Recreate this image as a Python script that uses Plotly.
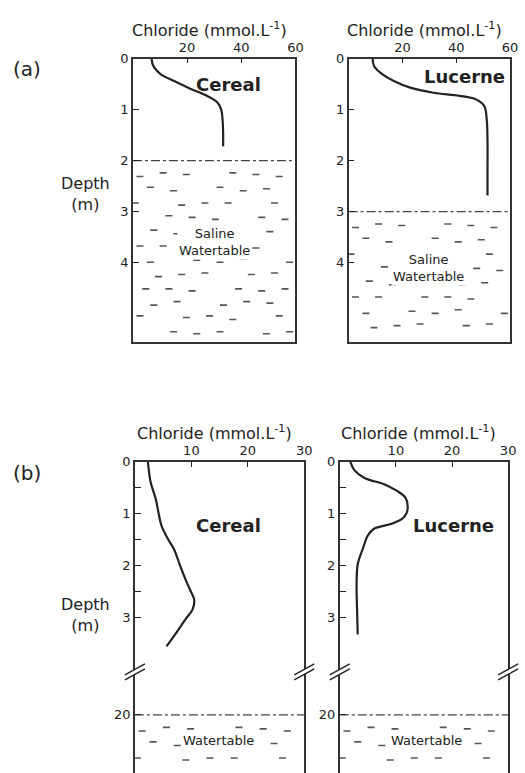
import numpy as np
import plotly.graph_objects as go

W, H = 525, 773

# ---------------- data ----------------
# (a) saline watertable site
a_cereal_depth = [0, 0.1, 0.18, 0.31, 0.44, 0.59, 0.73, 0.86, 1.0, 1.2, 1.45, 1.72]
a_cereal_cl = [6.9, 7.2, 7.9, 10.3, 15.2, 21.2, 27.3, 31.2, 32.6, 33.1, 33.3, 33.3]
a_lucerne_depth = [0, 0.15, 0.31, 0.44, 0.57, 0.67, 0.73, 0.8, 0.93, 1.18, 1.6, 2.2, 2.68]
a_lucerne_cl = [8.9, 9.5, 12.6, 16.8, 22.9, 31.5, 41.2, 47.3, 50.4, 51.3, 51.6, 51.6, 51.6]
a_watertable = [2.0, 3.0]          # cereal, lucerne (m)
a_xticks = [20, 40, 60]
a_yticks = [0, 1, 2, 3, 4]

# (b) deep watertable site
b_cereal_depth = [0, 0.4, 0.72, 1.05, 1.23, 1.48, 1.68, 2.0, 2.33, 2.5, 2.66, 2.85, 3.0, 3.27, 3.56]
b_cereal_cl = [2.3, 2.8, 3.7, 4.3, 4.7, 5.8, 6.9, 8.0, 9.2, 9.9, 10.5, 10.2, 9.2, 7.5, 5.6]
b_lucerne_depth = [0, 0.16, 0.31, 0.43, 0.56, 0.69, 0.85, 0.99, 1.1, 1.2, 1.29, 1.42, 1.68, 1.98, 2.4, 2.9, 3.33]
b_lucerne_cl = [1.9, 2.6, 4.4, 7.9, 10.2, 11.7, 12.1, 11.9, 11.1, 9.1, 6.1, 5.0, 4.1, 3.2, 3.0, 3.1, 3.2]
b_watertable = [20.0, 20.0]
b_xticks = [10, 20, 30]
b_yticks = [0, 1, 2, 3, 20]
b_yminor = [0.5, 1.5, 2.5]

# broken depth axis for (b): depths >= 20 m are drawn just below the break
BREAK_AT = 4.07      # display depth of the "//" marks
DEEP_START = 4.88    # display depth of 20 m


def b_disp(d):
    d = np.asarray(d, dtype=float)
    return np.where(d >= 20, DEEP_START + (d - 20), d)


INK = "#222222"
FONT = "DejaVu Sans"

fig = go.Figure()


def px_x(a, b):
    return [a / W, b / W]


def px_y(top, bot):
    return [max(0.0, 1 - bot / H), 1 - top / H]


panels = [
    ("a_c", "x", "y", px_x(135, 300), px_y(52, 338), 60, [5.55, 0]),
    ("a_l", "x2", "y2", px_x(354, 518), px_y(52, 338), 60, [5.55, 0]),
    ("b_c", "x3", "y3", px_x(137, 309), px_y(459, 773), 30, [6.0, 0]),
    ("b_l", "x4", "y4", px_x(345, 516), px_y(459, 773), 30, [6.0, 0]),
]


# ---------- watertable texture (decorative dashes) ----------
def texture(xmax, top, bottom, xa, ya):
    rows = np.arange(top + 0.27, bottom - 0.05, 0.28)
    phases = [0.3, 0.75, 0.1, 0.55, 0.9]
    xs, ys = [], []
    step = xmax / 7.0
    for i, r in enumerate(rows):
        off = step * phases[i % len(phases)]
        for j, c in enumerate(np.arange(off, xmax - step * 0.15, step)):
            if (i + j) % 4 == 3:
                continue
            xs.append(c)
            ys.append(r + (0.04 if (i + 2 * j) % 3 == 0 else -0.03 if (i + j) % 3 == 1 else 0))
    fig.add_trace(go.Scatter(
        x=xs, y=ys, xaxis=xa, yaxis=ya, mode="markers",
        marker=dict(symbol="line-ew", size=5, line=dict(width=1.6, color="#555555")),
        hoverinfo="skip", showlegend=False))


def wt_line(xmax, depth, xa, ya):
    fig.add_trace(go.Scatter(
        x=[0, xmax], y=[depth, depth], xaxis=xa, yaxis=ya, mode="lines",
        line=dict(color="#444444", width=1.3, dash="dashdot"),
        hoverinfo="skip", showlegend=False))


texture(60, a_watertable[0], 5.55, "x", "y")
wt_line(60, a_watertable[0], "x", "y")
texture(60, a_watertable[1], 5.55, "x2", "y2")
wt_line(60, a_watertable[1], "x2", "y2")
texture(30, float(b_disp(b_watertable[0])), 6.0, "x3", "y3")
wt_line(30, float(b_disp(b_watertable[0])), "x3", "y3")
texture(30, float(b_disp(b_watertable[1])), 6.0, "x4", "y4")
wt_line(30, float(b_disp(b_watertable[1])), "x4", "y4")

# ---------- chloride profiles ----------
curve = dict(color=INK, width=2.2, shape="spline", smoothing=1.0)
fig.add_trace(go.Scatter(x=a_cereal_cl, y=a_cereal_depth, xaxis="x", yaxis="y",
                         mode="lines", line=curve, showlegend=False))
fig.add_trace(go.Scatter(x=a_lucerne_cl, y=a_lucerne_depth, xaxis="x2", yaxis="y2",
                         mode="lines", line=curve, showlegend=False))
fig.add_trace(go.Scatter(x=b_cereal_cl, y=b_disp(b_cereal_depth), xaxis="x3", yaxis="y3",
                         mode="lines", line=curve, showlegend=False))
fig.add_trace(go.Scatter(x=b_lucerne_cl, y=b_disp(b_lucerne_depth), xaxis="x4", yaxis="y4",
                         mode="lines", line=curve, showlegend=False))

# ---------- axes ----------
layout = {}
for name, xa, ya, xd, yd, xmax, yr in panels:
    xkey = "xaxis" + xa[1:]
    ykey = "yaxis" + ya[1:]
    is_a = name.startswith("a")
    layout[xkey] = dict(
        domain=xd, anchor=ya, range=[0, xmax], side="top",
        tickvals=a_xticks if is_a else b_xticks,
        ticks="inside", ticklen=5, tickwidth=1.3, tickcolor=INK,
        showline=True, linewidth=1.6, linecolor="#333333",
        mirror=True if is_a else False,
        showgrid=False, zeroline=False, fixedrange=True,
        tickfont=dict(family=FONT, size=13, color=INK),
    )
    ycfg = dict(
        domain=yd, anchor=xa, range=yr,
        ticks="inside", ticklen=6, tickwidth=1.3, tickcolor=INK,
        showline=True, linewidth=1.6, linecolor="#333333", mirror=True,
        showgrid=False, zeroline=False, fixedrange=True,
        tickfont=dict(family=FONT, size=13, color=INK),
    )
    if is_a:
        ycfg.update(tickvals=a_yticks, ticktext=[str(v) for v in a_yticks])
    else:
        ycfg.update(tickvals=[float(v) for v in b_disp(b_yticks)],
                    ticktext=[str(v) for v in b_yticks],
                    minor=dict(tickvals=b_yminor, ticks="inside", ticklen=6,
                               tickwidth=1.3, tickcolor=INK, showgrid=False))
    layout[ykey] = ycfg

annotations = []
shapes = []

crop_pos = {
    "a_c": ("Cereal", 35.3, 0.5),
    "a_l": ("Lucerne", 43.0, 0.35),
    "b_c": ("Cereal", 16.6, 1.22),
    "b_l": ("Lucerne", 20.3, 1.22),
}
for name, xa, ya, xd, yd, xmax, yr in panels:
    annotations.append(dict(
        text="Chloride (mmol.L<sup>-1</sup>)", xref=xa + " domain", yref=ya + " domain",
        x=0.47, y=1, yanchor="middle", xanchor="center", yshift=29, showarrow=False,
        font=dict(family=FONT, size=16, color=INK)))
    label, lx, ly = crop_pos[name]
    annotations.append(dict(
        text="<b>%s</b>" % label, xref=xa, yref=ya, x=lx, y=ly, showarrow=False,
        xanchor="center", yanchor="middle",
        font=dict(family=FONT, size=18, color=INK)))

annotations += [
    dict(text="Saline<br>Watertable", xref="x", yref="y", x=30, y=3.6, showarrow=False,
         xanchor="center", yanchor="middle",
         bgcolor="white", font=dict(family=FONT, size=13, color=INK)),
    dict(text="Saline<br>Watertable", xref="x2", yref="y2", x=29.6, y=4.1, showarrow=False,
         xanchor="center", yanchor="middle",
         bgcolor="white", font=dict(family=FONT, size=13, color=INK)),
    dict(text="Watertable", xref="x3", yref="y3", x=14.8, y=float(b_disp(20.5)), showarrow=False,
         xanchor="center", yanchor="middle",
         bgcolor="white", font=dict(family=FONT, size=13, color=INK)),
    dict(text="Watertable", xref="x4", yref="y4", x=15.4, y=float(b_disp(20.5)), showarrow=False,
         xanchor="center", yanchor="middle",
         bgcolor="white", font=dict(family=FONT, size=13, color=INK)),
]

annotations += [
    dict(text="(a)", xref="paper", yref="paper", x=27 / W, y=1 - 63 / H, showarrow=False,
         xanchor="center", yanchor="middle", font=dict(family=FONT, size=20, color=INK)),
    dict(text="(b)", xref="paper", yref="paper", x=27 / W, y=1 - 470 / H, showarrow=False,
         xanchor="center", yanchor="middle", font=dict(family=FONT, size=20, color=INK)),
    dict(text="Depth<br>(m)", xref="paper", yref="paper", x=87 / W, y=1 - 189 / H, showarrow=False,
         xanchor="center", yanchor="middle", font=dict(family=FONT, size=16, color=INK)),
    dict(text="Depth<br>(m)", xref="paper", yref="paper", x=87 / W, y=1 - 614 / H, showarrow=False,
         xanchor="center", yanchor="middle", font=dict(family=FONT, size=16, color=INK)),
]

# axis-break marks "//" on the (b) panels
for xa, ya in (("x3", "y3"), ("x4", "y4")):
    for side in (0, 1):
        common = dict(xref=xa + " domain", yref=ya, xsizemode="pixel", ysizemode="pixel",
                      xanchor=side, yanchor=BREAK_AT)
        shapes.append(dict(type="path", path="M -10,-7 L 10,4 L 10,9 L -10,-2 Z",
                           fillcolor="white", line=dict(width=0), **common))
        shapes.append(dict(type="path", path="M -10,-7 L 10,4",
                           line=dict(color=INK, width=1.5), **common))
        shapes.append(dict(type="path", path="M -10,-2 L 10,9",
                           line=dict(color=INK, width=1.5), **common))

fig.update_layout(
    width=W, height=H,
    margin=dict(l=0, r=0, t=0, b=0),
    paper_bgcolor="white", plot_bgcolor="white",
    showlegend=False,
    font=dict(family=FONT, color=INK),
    annotations=annotations, shapes=shapes,
    **layout,
)

fig.write_html("out.html", config={"displayModeBar": False})
